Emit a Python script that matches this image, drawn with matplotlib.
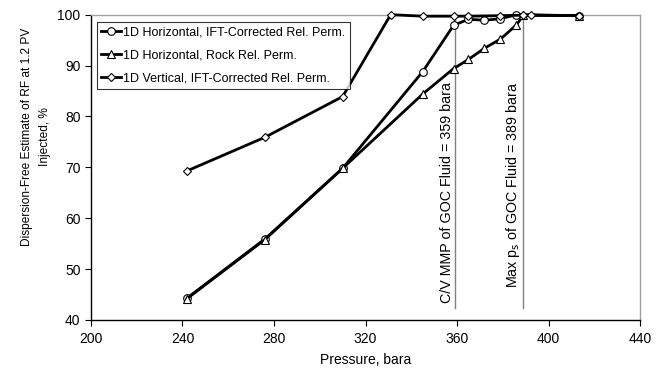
import matplotlib
matplotlib.use('Agg')
import matplotlib.pyplot as plt

plt.rcParams['font.family'] = ['Liberation Sans', 'DejaVu Sans']

# 1D horizontal, IFT-corrected rel. perm.
p_hor_ift = [242, 276, 310, 345, 358.5, 365, 372, 379, 386, 413.5]
rf_hor_ift = [44.3, 55.9, 69.8, 88.8, 97.9, 99.1, 98.9, 99.2, 100.0, 99.8]

# 1D horizontal, rock rel. perm.
p_hor_rock = [242, 276, 310, 345, 358.5, 365, 372, 379, 386, 389, 413.5]
rf_hor_rock = [44.2, 55.8, 69.8, 84.4, 89.4, 91.2, 93.4, 95.2, 98.0, 99.9, 99.8]

# 1D vertical, IFT-corrected rel. perm.
p_ver_ift = [242, 276, 310, 331, 345, 358.5, 365, 379, 389, 392.5, 413.5]
rf_ver_ift = [69.3, 75.9, 83.9, 100.0, 99.7, 99.7, 99.7, 99.8, 99.9, 99.9, 99.8]

mmp = 359
max_ps = 389

fig = plt.figure(figsize=(6.66, 3.76), dpi=100)
ax = fig.add_axes([0.1366, 0.149, 0.8244, 0.812])

# vertical reference lines
ax.plot([mmp, mmp], [42.4, 100], color='#808080', lw=1.0, zorder=1)
ax.plot([max_ps, max_ps], [42.4, 100], color='#808080', lw=1.0, zorder=1)
ax.text(mmp - 0.5, 86.8, 'C/V MMP of GOC Fluid = 359 bara', rotation=90,
        ha='right', va='top', fontsize=10.3)
ax.text(max_ps - 0.5, 86.8, 'Max p$_{\\rm s}$ of GOC Fluid = 389 bara', rotation=90,
        ha='right', va='top', fontsize=10.3)

ax.plot(p_hor_ift, rf_hor_ift, color='black', lw=2.0, marker='o', ms=5.5,
        mfc='white', mec='black', mew=0.8, label='1D Horizontal, IFT-Corrected Rel. Perm.',
        zorder=3, clip_on=False)
ax.plot(p_hor_rock, rf_hor_rock, color='black', lw=2.0, marker='^', ms=5.5,
        mfc='white', mec='black', mew=0.8, label='1D Horizontal, Rock Rel. Perm.',
        zorder=3, clip_on=False)
ax.plot(p_ver_ift, rf_ver_ift, color='black', lw=2.0, marker='D', ms=4,
        mfc='white', mec='black', mew=0.8, label='1D Vertical, IFT-Corrected Rel. Perm.',
        zorder=4, clip_on=False)

ax.set_xlim(200, 440)
ax.set_ylim(40, 100)
ax.set_xticks(range(200, 441, 40))
ax.set_yticks(range(40, 101, 10))
ax.tick_params(direction='out', length=4, width=0.8, labelsize=10, color='black')
ax.tick_params(axis='x', pad=5)

for s in ['top', 'right']:
    ax.spines[s].set_color('#a0a0a0')
    ax.spines[s].set_linewidth(1.0)
for s in ['left', 'bottom']:
    ax.spines[s].set_color('black')
    ax.spines[s].set_linewidth(1.0)

ax.set_xlabel('Pressure, bara', fontsize=10, labelpad=5)
ax.set_ylabel('Dispersion-Free Estimate of RF at 1.2 PV\nInjected, %', fontsize=8.6,
              linespacing=1.7)
ax.yaxis.set_label_coords(-0.072, 0.6)

leg = ax.legend(loc='upper left', bbox_to_anchor=(0.011, 0.976), fontsize=9,
                frameon=True, fancybox=False, edgecolor='black', handlelength=1.6,
                handletextpad=0.15, borderpad=0.35, labelspacing=0.9, borderaxespad=0)
leg.get_frame().set_linewidth(0.8)

fig.savefig('out.png', dpi=100)
